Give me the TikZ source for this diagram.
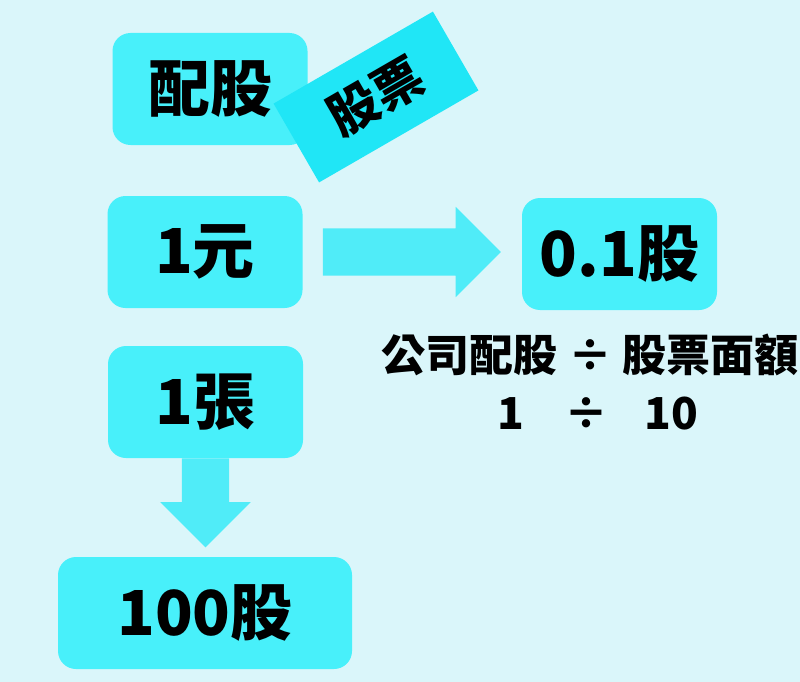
\documentclass[tikz,border=0pt]{standalone}
\usepackage{fontspec}
\newfontfamily\cjk{Noto Sans CJK TC}[BoldFont={Noto Sans CJK TC Black}]
\usetikzlibrary{positioning,shapes.arrows}

\definecolor{bgcyan}{RGB}{218,246,250}
\definecolor{boxcyan}{RGB}{72,240,250}
\definecolor{tagcyan}{RGB}{32,230,246}
\definecolor{arrowcyan}{RGB}{80,236,248}

\tikzset{
  box/.style={fill=boxcyan, rounded corners=18, minimum width=195, minimum height=112,
    inner sep=0, font=\cjk\bfseries\fontsize{62}{62}\selectfont},
  tag/.style={fill=tagcyan, minimum width=184, minimum height=91, inner sep=0,
    font=\cjk\bfseries\fontsize{50}{50}\selectfont},
  fatarrow/.style={single arrow, fill=arrowcyan, inner xsep=0, inner ysep=23.5,
    minimum width=90, single arrow head extend=21.5},
}

\begin{document}
\begin{tikzpicture}[x=1pt, y=-1pt]
\fill[bgcyan] (0,0) rectangle (800,682);
\useasboundingbox (0,0) rectangle (800,682);

% left column
\node[box] (peigu) at (210,89) {配股};
\node[tag, rotate=30] (piao) at (376,97) {股票};
\node[box] (yuan) at (205,252) {1元};
\node[box] (zhang) at (205.5,402) {1張};
\node[box, minimum width=294] (gu100) at (205,613) {100股};

% right side
\node[box] (gu01) at (619.5,254) {0.1股};
\node[font=\cjk\bfseries\fontsize{44}{58}\selectfont, align=center] (formula) at (590,382)
  {公司配股 ÷ 股票面額\\\hspace{16pt}1\hspace{40pt}÷\hspace{36pt}10};

% arrows
\node[fatarrow, minimum height=178, right=20pt of yuan.east, anchor=west] (toright) {};
\node[fatarrow, minimum height=89, rotate=-90, below=0pt of zhang.south, anchor=west] (todown) {};
\end{tikzpicture}
\end{document}
